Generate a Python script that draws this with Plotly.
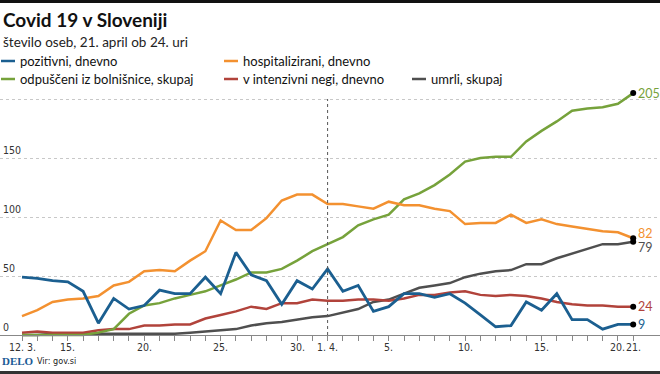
import plotly.graph_objects as go

# ---------------- data ----------------
tick_labels = {0: "12. 3.", 3: "15.", 8: "20.", 13: "25.", 18: "30.", 20: "1. 4.",
               24: "5.", 29: "10.", 34: "15.", 39: "20.", 40: "21."}

pozitivni = [49, 48, 46, 45, 37, 10, 31, 22, 25, 38, 35, 35, 49, 35, 70, 51, 46, 26, 46, 39, 56,
             37, 42, 20, 24, 35, 35, 32, 35, 27, 17, 7, 8, 28, 21, 35, 13, 13, 5, 9, 9]
hospitalizirani = [16, 21, 28, 30, 31, 33, 42, 45, 54, 55, 54, 63, 71, 97, 89, 89, 99, 114, 119, 119, 111,
                   111, 109, 107, 113, 110, 110, 107, 105, 94, 95, 95, 102, 95, 98, 94, 92, 90, 88, 87, 82]
odpusceni = [0, 0, 0, 0, 0, 2, 5, 18, 25, 27, 31, 34, 37, 42, 47, 53, 53, 56, 63, 71, 77,
             83, 93, 98, 102, 115, 120, 127, 136, 147, 150, 151, 151, 164, 173, 181, 190, 192, 193, 196, 205]
intenzivni = [2, 3, 2, 2, 2, 4, 5, 5, 8, 8, 9, 9, 14, 17, 20, 24, 22, 27, 27, 30, 29,
              29, 30, 30, 29, 31, 34, 34, 36, 37, 34, 33, 34, 33, 31, 28, 26, 25, 25, 24, 24]
umrli = [0, 0, 1, 1, 1, 1, 1, 1, 1, 1, 1, 2, 3, 4, 5, 8, 10, 11, 13, 15, 16,
         19, 22, 28, 30, 35, 40, 42, 44, 49, 52, 54, 55, 60, 60, 65, 69, 73, 77, 77, 79]

series_names = ["pozitivni, dnevno", "hospitalizirani, dnevno", "odpuščeni iz bolnišnice, skupaj",
                "v intenzivni negi, dnevno", "umrli, skupaj"]
y_grid = [0, 50, 100, 150, 200]
y_labels = [0, 50, 100, 150]

# ---------------- styling ----------------
W, H = 660, 374
M_T, M_B = 86, 34
PH = H - M_T - M_B
C_BLUE = "#1b5f90"
C_ORANGE = "#f39130"
C_GREEN = "#76a23b"
C_RED = "#b1433b"
C_GREY = "#4f4f4f"
FONT = "Lato, 'Open Sans', sans-serif"
NARROW = "'DejaVu Sans Condensed', 'Liberation Sans Narrow', sans-serif"


def py(p):
    return (H - M_B - p) / PH


def px(p):
    return p / W


days = list(range(len(pozitivni)))
series = [
    (pozitivni, C_BLUE, 2.8, series_names[0]),
    (hospitalizirani, C_ORANGE, 2.5, series_names[1]),
    (odpusceni, C_GREEN, 2.5, series_names[2]),
    (intenzivni, C_RED, 2.5, series_names[3]),
    (umrli, C_GREY, 2.5, series_names[4]),
]

fig = go.Figure()
# draw order: grey, red, green, orange, blue
for idx in [4, 3, 2, 1, 0]:
    vals, col, w, name = series[idx]
    fig.add_trace(go.Scatter(x=days, y=vals, mode="lines", name=name,
                             line=dict(color=col, width=w), showlegend=False,
                             hoverinfo="skip"))

# end dots
last = days[-1]
fig.add_trace(go.Scatter(x=[last] * 5, y=[s[0][-1] for s in series], mode="markers",
                         marker=dict(color="black", size=6), showlegend=False,
                         hoverinfo="skip", cliponaxis=False))

# end labels
label_shift = {0: 0, 1: 5, 2: 0, 3: 0, 4: -6}
for i, (vals, col, w, name) in enumerate(series):
    fig.add_annotation(x=last, y=vals[-1], text=str(vals[-1]), showarrow=False,
                       xanchor="left", yanchor="middle", xshift=3, yshift=label_shift[i],
                       font=dict(family=FONT, size=12.5, color=col))

# y-axis labels (inside, above grid lines)
for v in y_labels:
    fig.add_annotation(xref="paper", yref="y", x=px(1), y=v, text=str(v), showarrow=False,
                       xanchor="left", yanchor="bottom",
                       font=dict(family=NARROW, size=10.5, color="#333333"))

# x-axis labels, placed on the x scale under their ticks
for d, lab in tick_labels.items():
    fig.add_annotation(xref="x", yref="paper", x=d, y=py(347), text=lab, showarrow=False,
                       xanchor="center", yanchor="middle",
                       font=dict(family=NARROW, size=10.5, color="#333333"))

# vertical dotted line at 1. 4.
fig.add_shape(type="line", xref="x", yref="y", x0=20, x1=20, y0=0, y1=200,
              line=dict(color="#555555", width=1, dash="dot"))

# top / bottom bars
fig.add_shape(type="rect", xref="paper", yref="paper", x0=0, x1=1, y0=py(3), y1=py(0),
              fillcolor="#111111", line=dict(width=0))
fig.add_shape(type="rect", xref="paper", yref="paper", x0=0, x1=1, y0=py(374), y1=py(371),
              fillcolor="#333333", line=dict(width=0))

# title & subtitle
fig.add_annotation(xref="paper", yref="paper", x=px(1), y=py(19), text="<b>Covid 19 v Sloveniji</b>",
                   showarrow=False, xanchor="left", yanchor="middle",
                   font=dict(family=FONT, size=19, color="#111111"))
fig.add_annotation(xref="paper", yref="paper", x=px(1), y=py(42), text="število oseb, 21. april ob 24. uri",
                   showarrow=False, xanchor="left", yanchor="middle",
                   font=dict(family=FONT, size=13.5, color="#222222"))

# manual legend
legend_pos = [(1, 61), (224, 61), (1, 79), (224, 79), (412, 79)]
for i, (vals, col, w, name) in enumerate(series):
    lx, ly = legend_pos[i]
    fig.add_shape(type="line", xref="paper", yref="paper", x0=px(lx), x1=px(lx + 14),
                  y0=py(ly), y1=py(ly), line=dict(color=col, width=2.5))
    fig.add_annotation(xref="paper", yref="paper", x=px(lx + 17), y=py(ly), text=name,
                       showarrow=False, xanchor="left", yanchor="middle",
                       font=dict(family=FONT, size=13, color="#111111"))

# source
fig.add_annotation(xref="paper", yref="paper", x=px(0), y=py(361), text="<b>DELO</b>",
                   showarrow=False, xanchor="left", yanchor="middle",
                   font=dict(family="'Liberation Serif', 'DejaVu Serif', serif", size=11, color="#1a5a96"))
fig.add_annotation(xref="paper", yref="paper", x=px(35), y=py(361), text="Vir: gov.si",
                   showarrow=False, xanchor="left", yanchor="middle",
                   font=dict(family=NARROW, size=9, color="#222222"))

x0_val = -22 / 15.28
x1_val = (W - 22) / 15.28
y_lo = -(H - M_B - 335) / 1.18
y_hi = y_lo + PH / 1.18

fig.update_layout(
    width=W, height=H,
    margin=dict(l=0, r=0, t=M_T, b=M_B, pad=0),
    paper_bgcolor="white", plot_bgcolor="white",
    showlegend=False,
    xaxis=dict(range=[x0_val, x1_val], tickvals=days, showticklabels=False,
               automargin=False,
               showgrid=False, zeroline=False, showline=True, linecolor="#888888", linewidth=1,
               ticks="outside", ticklen=5, tickcolor="#888888", tickwidth=1,
               anchor="free", position=py(335)),
    yaxis=dict(range=[y_lo, y_hi], tickvals=y_grid, showticklabels=False, automargin=False,
               showgrid=True, gridcolor="#c8c8c8", griddash="dot", gridwidth=1,
               zeroline=False, showline=False, ticks=""),
)

fig.write_html("out.html", config={"displayModeBar": False},
               post_script="document.body.style.margin='0';document.body.style.overflow='hidden';")
